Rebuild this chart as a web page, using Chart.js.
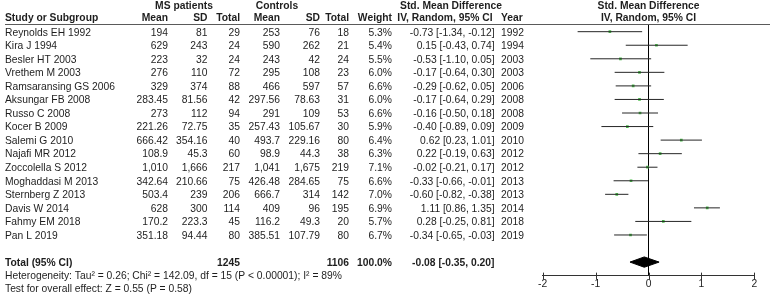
<!DOCTYPE html>
<html>
<head>
<meta charset="utf-8">
<script src="https://cdn.jsdelivr.net/npm/chart.js@4.4.1/dist/chart.umd.min.js"></script>
<style>
  html, body { margin: 0; padding: 0; background: #ffffff; }
  #wrap { width: 770px; height: 297px; position: relative; }
</style>
</head>
<body>
<div id="wrap"><canvas id="c" width="770" height="297"></canvas></div>
<script>
// ---------------- DATA ----------------
const studies = ["Reynolds EH 1992","Kira J 1994","Besler HT 2003","Vrethem M 2003","Ramsaransing GS 2006","Aksungar FB 2008","Russo C 2008","Kocer B 2009","Salemi G 2010","Najafi MR 2012","Zoccolella S 2012","Moghaddasi M 2013","Sternberg Z 2013","Davis W 2014","Fahmy EM 2018","Pan L 2019"];
const msMean = [194, 629, 223, 276, 329, 283.45, 273, 221.26, 666.42, 108.9, 1010, 342.64, 503.4, 628, 170.2, 351.18];
const msSD   = [81, 243, 32, 110, 374, 81.56, 112, 72.75, 354.16, 45.3, 1666, 210.66, 239, 300, 223.3, 94.44];
const msN    = [29, 24, 24, 72, 88, 42, 94, 35, 40, 60, 217, 75, 206, 114, 45, 80];
const ctMean = [253, 590, 243, 295, 466, 297.56, 291, 257.43, 493.7, 98.9, 1041, 426.48, 666.7, 409, 116.2, 385.51];
const ctSD   = [76, 262, 42, 108, 597, 78.63, 109, 105.67, 229.16, 44.3, 1675, 284.65, 314, 96, 49.3, 107.79];
const ctN    = [18, 21, 24, 23, 57, 31, 53, 30, 80, 38, 219, 75, 142, 195, 20, 80];
const weights = [5.3, 5.4, 5.5, 6.0, 6.6, 6.0, 6.6, 5.9, 6.4, 6.3, 7.1, 6.6, 7.0, 6.9, 5.7, 6.7];
const smd   = [-0.73, 0.15, -0.53, -0.17, -0.29, -0.17, -0.16, -0.40, 0.62, 0.22, -0.02, -0.33, -0.60, 1.11, 0.28, -0.34];
const ciLow = [-1.34, -0.43, -1.10, -0.64, -0.62, -0.64, -0.50, -0.89, 0.23, -0.19, -0.21, -0.66, -0.82, 0.86, -0.25, -0.65];
const ciHigh= [-0.12, 0.74, 0.05, 0.30, 0.05, 0.29, 0.18, 0.09, 1.01, 0.63, 0.17, -0.01, -0.38, 1.35, 0.81, -0.03];
const years = [1992, 1994, 2003, 2003, 2006, 2008, 2008, 2009, 2010, 2012, 2012, 2013, 2013, 2014, 2018, 2019];
const totalMsN = 1245;
const totalCtN = 1106;
const totalWeight = 100.0;
const totalSmd = -0.08;
const totalLow = -0.35;
const totalHigh = 0.20;
const xTicks = [-2, -1, 0, 1, 2];
const heterogeneityText = "Heterogeneity: Tau\u00B2 = 0.26; Chi\u00B2 = 142.09, df = 15 (P < 0.00001); I\u00B2 = 89%";
const overallText = "Test for overall effect: Z = 0.55 (P = 0.58)";

// ---------------- LAYOUT / STYLE ----------------
const FONT = '"Liberation Sans", Arial, sans-serif';
const FS = 10.3;
const TEXT = '#1e1e1e';
const GREEN = '#4cbf4c';
const TOTAL_ROW = studies.length + 1;      // one blank row before total
const HET_ROW = TOTAL_ROW + 0.95;
const TEST_ROW = TOTAL_ROW + 1.9;
const HEAD1_ROW = -1.9;
const HEAD2_ROW = -0.98;
const DIAMOND_HALF = 0.38;
const TEXT_DY = 1.0;

const fmtNum = v => v.toLocaleString('en-US', {maximumFractionDigits: 3});
const fmtCI = (m, l, h) => `${m.toFixed(2)} [${l.toFixed(2)}, ${h.toFixed(2)}]`;

const cols = {
  study: 5, msMean: 168, msSD: 207.5, msN: 240, ctMean: 280, ctSD: 320, ctN: 349, weight: 392, ci: 494.5, year: 501
};

// ---------------- DATASETS ----------------
const datasets = [];
studies.forEach((s, i) => {
  datasets.push({
    label: s,
    data: [{x: ciLow[i], y: i}, {x: ciHigh[i], y: i}],
    showLine: true, borderColor: '#262626', borderWidth: 1,
    pointRadius: 0, fill: false
  });
});
datasets.push({
  label: 'SMD',
  data: smd.map((v, i) => ({x: v, y: i})),
  showLine: false, pointStyle: 'rect', pointRadius: 1.9,
  backgroundColor: GREEN, borderColor: GREEN, borderWidth: 0
});
datasets.push({
  label: 'Total',
  data: [
    {x: totalLow, y: TOTAL_ROW}, {x: totalSmd, y: TOTAL_ROW - DIAMOND_HALF},
    {x: totalHigh, y: TOTAL_ROW}, {x: totalSmd, y: TOTAL_ROW + DIAMOND_HALF},
    {x: totalLow, y: TOTAL_ROW}
  ],
  showLine: true, borderColor: '#000', backgroundColor: '#000', borderWidth: 1,
  pointRadius: 0, fill: 'shape', tension: 0
});

// ---------------- TABLE PLUGIN ----------------
const tablePlugin = {
  id: 'forestTable',
  afterDraw(chart) {
    const ctx = chart.ctx;
    const ys = chart.scales.y;
    const xs = chart.scales.x;
    const ca = chart.chartArea;
    const Y = r => ys.getPixelForValue(r) + TEXT_DY;
    ctx.save();
    // header line
    ctx.strokeStyle = '#5a5a5a';
    ctx.lineWidth = 1.2;
    ctx.beginPath();
    ctx.moveTo(5, ca.top); ctx.lineTo(770, ca.top);
    ctx.stroke();
    // crossing tick marks on axis
    ctx.strokeStyle = '#333';
    ctx.lineWidth = 1;
    xs.ticks.forEach(t => {
      const px = Math.round(xs.getPixelForValue(t.value)) + 0.5;
      ctx.beginPath();
      ctx.moveTo(px, ca.bottom - 3); ctx.lineTo(px, ca.bottom + 4);
      ctx.stroke();
    });

    ctx.fillStyle = TEXT;
    ctx.textBaseline = 'middle';
    const put = (txt, x, y, align, bold) => {
      ctx.font = `${bold ? 'bold ' : ''}${FS}px ${FONT}`;
      ctx.textAlign = align;
      ctx.fillText(txt, x, y);
    };
    const yh1 = ys.getPixelForValue(HEAD1_ROW);
    const yh2 = ys.getPixelForValue(HEAD2_ROW);
    const plotMid = xs.getPixelForValue(0);
    // header row 1
    put('MS patients', 184, yh1, 'center', true);
    put('Controls', 277, yh1, 'center', true);
    put('Std. Mean Difference', 451, yh1, 'center', true);
    put('Std. Mean Difference', plotMid, yh1, 'center', true);
    // header row 2
    put('Study or Subgroup', cols.study, yh2, 'left', true);
    put('Mean', cols.msMean, yh2, 'right', true);
    put('SD', cols.msSD, yh2, 'right', true);
    put('Total', cols.msN, yh2, 'right', true);
    put('Mean', cols.ctMean, yh2, 'right', true);
    put('SD', cols.ctSD, yh2, 'right', true);
    put('Total', cols.ctN, yh2, 'right', true);
    put('Weight', cols.weight, yh2, 'right', true);
    put('IV, Random, 95% CI', cols.ci - 2, yh2, 'right', true);
    put('Year', cols.year, yh2, 'left', true);
    put('IV, Random, 95% CI', plotMid, yh2, 'center', true);
    // study rows
    studies.forEach((s, i) => {
      const y = Y(i);
      put(s, cols.study, y, 'left', false);
      put(fmtNum(msMean[i]), cols.msMean, y, 'right', false);
      put(fmtNum(msSD[i]), cols.msSD, y, 'right', false);
      put(String(msN[i]), cols.msN, y, 'right', false);
      put(fmtNum(ctMean[i]), cols.ctMean, y, 'right', false);
      put(fmtNum(ctSD[i]), cols.ctSD, y, 'right', false);
      put(String(ctN[i]), cols.ctN, y, 'right', false);
      put(weights[i].toFixed(1) + '%', cols.weight, y, 'right', false);
      put(fmtCI(smd[i], ciLow[i], ciHigh[i]), cols.ci, y, 'right', false);
      put(String(years[i]), cols.year, y, 'left', false);
    });
    // total
    const yt = Y(TOTAL_ROW);
    put('Total (95% CI)', cols.study, yt, 'left', true);
    put(String(totalMsN), cols.msN, yt, 'right', true);
    put(String(totalCtN), cols.ctN, yt, 'right', true);
    put(totalWeight.toFixed(1) + '%', cols.weight, yt, 'right', true);
    put(fmtCI(totalSmd, totalLow, totalHigh), cols.ci, yt, 'right', true);
    put(heterogeneityText, cols.study, Y(HET_ROW), 'left', false);
    put(overallText, cols.study, Y(TEST_ROW), 'left', false);
    ctx.restore();
  }
};

new Chart(document.getElementById('c'), {
  type: 'scatter',
  data: { datasets },
  options: {
    responsive: false,
    animation: false,
    devicePixelRatio: 1,
    layout: { padding: { left: 542.7, right: 15.7, top: 24.5, bottom: 5 } },
    plugins: { legend: { display: false }, tooltip: { enabled: false } },
    scales: {
      x: {
        type: 'linear', min: -2, max: 2,
        afterBuildTicks: axis => { axis.ticks = xTicks.map(v => ({value: v})); },
        ticks: { color: TEXT, font: { family: FONT, size: FS }, padding: 2, maxRotation: 0 },
        grid: {
          drawTicks: false,
          color: c => (c.tick && c.tick.value === 0) ? '#000' : 'rgba(0,0,0,0)',
          lineWidth: 1
        },
        border: { display: true, color: '#333', width: 1 }
      },
      y: {
        type: 'linear', reverse: true, min: -0.53, max: 18.0,
        display: false
      }
    }
  },
  plugins: [tablePlugin]
});
</script>
</body>
</html>
